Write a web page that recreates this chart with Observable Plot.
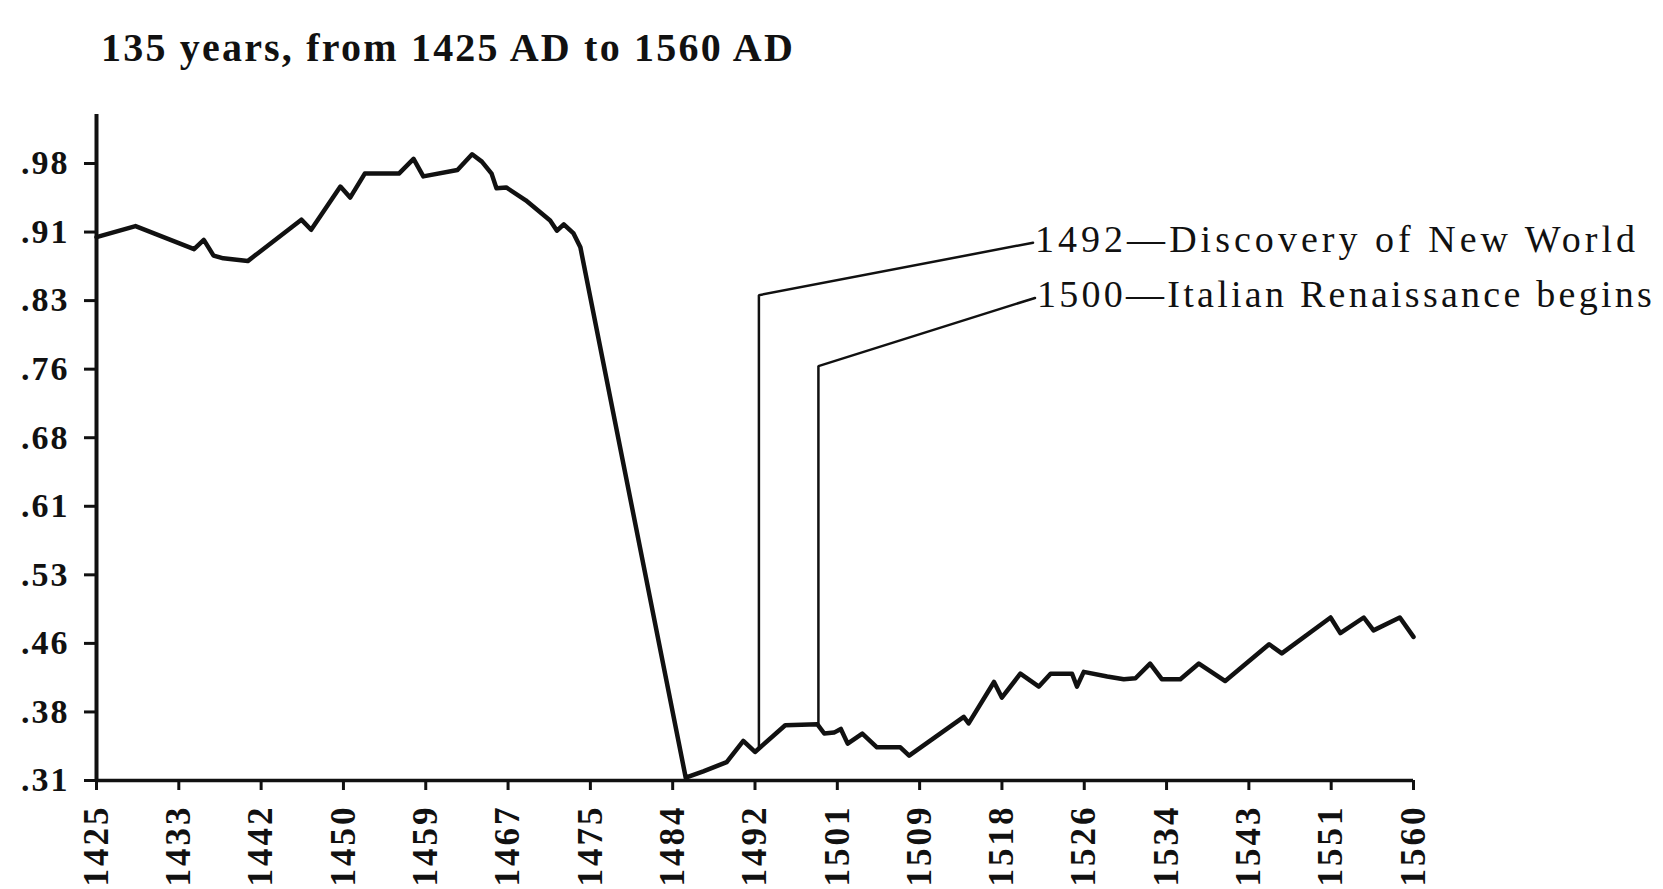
<!DOCTYPE html>
<html>
<head>
<meta charset="utf-8">
<script src="https://cdn.jsdelivr.net/npm/d3@7"></script>
<script src="https://cdn.jsdelivr.net/npm/@observablehq/plot@0.6"></script>
<style>
  html, body { margin: 0; padding: 0; background: #fff; }
  #wrap { position: relative; width: 1663px; height: 889px; overflow: hidden; }
  #title {
    position: absolute; left: 101px; top: 26px;
    font-family: "Liberation Serif", serif; font-weight: bold; font-size: 40px;
    line-height: 44px; color: #111; white-space: nowrap;
  }
  #chart { position: absolute; left: 0; top: 100px; }
</style>
</head>
<body>
<div id="wrap">
  <div id="title">135 years, from 1425 AD to 1560 AD</div>
  <div id="chart"></div>
</div>
<script>
// ---- data ----
const years = [1425, 1429, 1435, 1436, 1437, 1438, 1440.5, 1446, 1447, 1450, 1451, 1452.5, 1456, 1457.5, 1458.5, 1462, 1463.5, 1464.5, 1465.5, 1466, 1467, 1469, 1471.5, 1472.2, 1472.9, 1473.9, 1474.6, 1485.4, 1487.2, 1489.6, 1491.3, 1492.5, 1495.6, 1498.9, 1499.6, 1500.6, 1501.3, 1502.0, 1503.5, 1505.0, 1507.4, 1508.3, 1513.9, 1514.4, 1517.0, 1517.8, 1519.7, 1521.6, 1522.8, 1525.0, 1525.5, 1526.2, 1528.6, 1530.3, 1531.5, 1533.0, 1534.2, 1536.1, 1538.0, 1540.7, 1545.2, 1546.5, 1551.5, 1552.5, 1554.9, 1555.9, 1558.6, 1560];
const values = [0.900, 0.912, 0.887, 0.897, 0.880, 0.877, 0.874, 0.919, 0.908, 0.955, 0.943, 0.969, 0.969, 0.985, 0.966, 0.973, 0.990, 0.982, 0.969, 0.953, 0.954, 0.940, 0.918, 0.907, 0.914, 0.904, 0.889, 0.313, 0.320, 0.330, 0.353, 0.341, 0.370, 0.371, 0.361, 0.362, 0.366, 0.350, 0.361, 0.346, 0.346, 0.337, 0.379, 0.372, 0.417, 0.400, 0.426, 0.412, 0.426, 0.426, 0.412, 0.428, 0.423, 0.420, 0.421, 0.437, 0.420, 0.420, 0.437, 0.418, 0.458, 0.448, 0.487, 0.470, 0.487, 0.473, 0.487, 0.466];

const yTickLabels = [".31", ".38", ".46", ".53", ".61", ".68", ".76", ".83", ".91", ".98"];
const xTickLabels = ["1425", "1433", "1442", "1450", "1459", "1467", "1475", "1484", "1492", "1501", "1509", "1518", "1526", "1534", "1543", "1551", "1560"];

const annText = ["1492\u2014Discovery of New World", "1500\u2014Italian Renaissance begins"];
const annYear = [1492.9, 1499.0];        // x of the vertical leader
const annBase = [0.345, 0.370];          // where the leader meets the series
const annElbow = [0.837, 0.760];         // top of the vertical leader
const annLabelYear = [1521.0, 1521.2];   // end of the slanted leader
const annLabelValue = [0.894, 0.834];

const yAxisTop = 1.0332;

// ---- derived tables ----
const series = years.map((y, i) => ({year: y, value: values[i]}));
const yMin = 0.31, yMax = 0.98;
const yStep = (yMax - yMin) / (yTickLabels.length - 1);
const yTicks = yTickLabels.map((_, i) => yMin + i * yStep);
const xMin = 1425, xMax = 1560;
const xStep = (xMax - xMin) / (xTickLabels.length - 1);
const xTicks = xTickLabels.map((_, i) => xMin + i * xStep);
const leaders = [];
annText.forEach((t, i) => {
  leaders.push({id: i, year: annYear[i], value: annBase[i]});
  leaders.push({id: i, year: annYear[i], value: annElbow[i]});
  leaders.push({id: i, year: annLabelYear[i], value: annLabelValue[i]});
});
const labels = annText.map((t, i) => ({text: t, year: annLabelYear[i], value: annLabelValue[i]}));

const plot = Plot.plot({
  width: 1663,
  height: 789,
  marginLeft: 96,
  marginRight: 1663 - 1413,
  marginTop: 14,
  marginBottom: 109,
  style: {fontFamily: "Liberation Serif", background: "white", color: "#111", overflow: "visible"},
  x: {domain: [xMin, xMax]},
  y: {domain: [yMin, yAxisTop]},
  marks: [
    Plot.axisY(yTicks, {
      tickSize: 12, tickPadding: 15, label: null,
      tickFormat: d => yTickLabels[Math.round((d - yMin) / yStep)],
      fontSize: 34, fontWeight: "bold", strokeWidth: 3
    }),
    Plot.axisX(xTicks, {
      tickSize: 10, tickPadding: 14, tickRotate: -90, label: null,
      tickFormat: d => xTickLabels[Math.round((d - xMin) / xStep)],
      fontSize: 35, fontWeight: "bold", strokeWidth: 3
    }),
    Plot.ruleX([xMin], {y1: yMin, y2: yAxisTop, stroke: "#111", strokeWidth: 4}),
    Plot.ruleY([yMin], {x1: xMin, x2: xMax, stroke: "#111", strokeWidth: 3.5}),
    Plot.line(leaders, {x: "year", y: "value", z: "id", stroke: "#111", strokeWidth: 2.5, strokeLinejoin: "miter"}),
    Plot.line(series, {x: "year", y: "value", stroke: "#111", strokeWidth: 4.5, strokeLinejoin: "round"}),
    Plot.text(labels, {x: "year", y: "value", text: "text", textAnchor: "start", dx: 2, dy: -3,
      fontSize: 38, fontFamily: "Liberation Serif", fill: "#111"})
  ]
});
document.getElementById("chart").appendChild(plot);

// letter spacing to match the wide typesetting of the original
d3.select(plot).selectAll('[aria-label="y-axis tick label"] text')
  .attr("letter-spacing", "2px");
d3.select(plot).selectAll('[aria-label="x-axis tick label"] text')
  .attr("letter-spacing", "3px");
const annTargets = [604, 618];
d3.select(plot).selectAll('[aria-label="text"] text').nodes().forEach((n, i) => {
  const natural = n.getComputedTextLength();
  const chars = n.textContent.length;
  const ls = Math.max(0, (annTargets[i] - natural) / chars);
  n.setAttribute("letter-spacing", ls.toFixed(2) + "px");
});
const title = document.getElementById("title");
const tw = title.getBoundingClientRect().width;
const tchars = title.textContent.length;
title.style.letterSpacing = Math.max(0, (694 - tw) / tchars).toFixed(2) + "px";
</script>
</body>
</html>
